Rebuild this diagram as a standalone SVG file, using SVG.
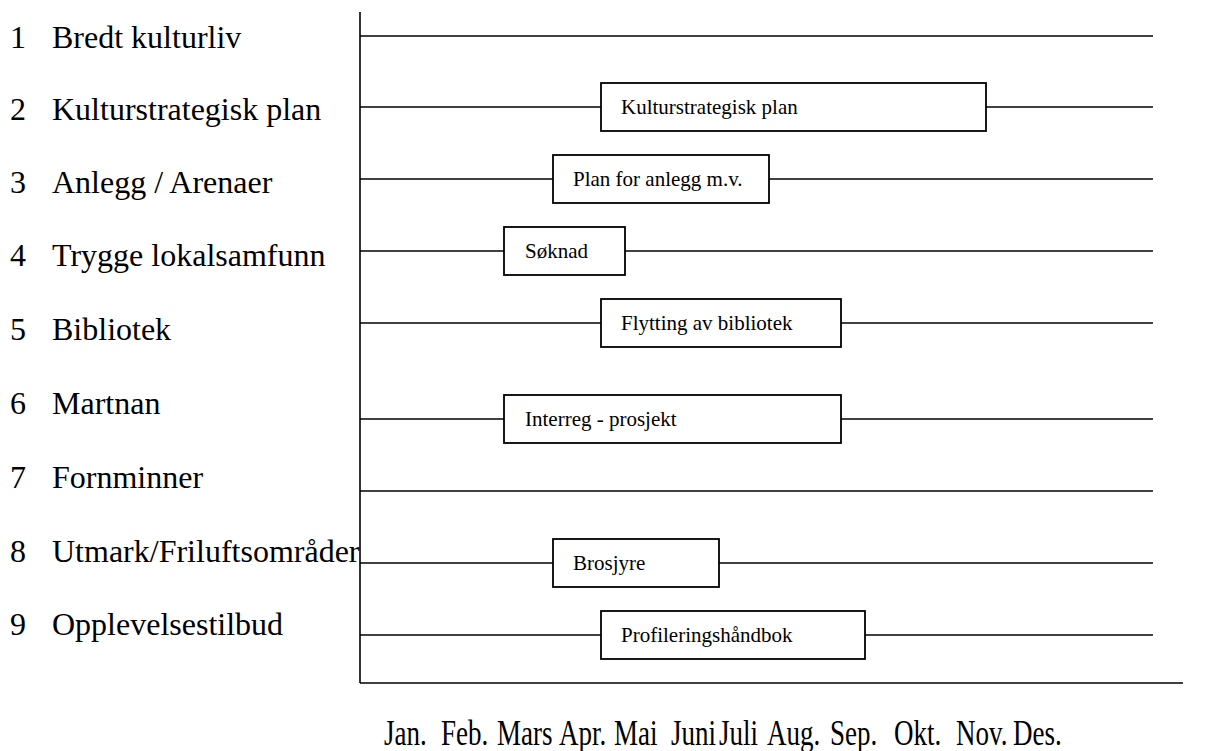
<svg xmlns="http://www.w3.org/2000/svg" width="1213" height="751" viewBox="0 0 1213 751">
<style>
.lbl{font-family:"Liberation Serif","Times New Roman",serif;font-size:32px;fill:#000}
.mon{font-family:"Liberation Serif","Times New Roman",serif;font-size:27px;fill:#000}
.bt{font-family:"Liberation Serif","Times New Roman",serif;font-size:21px;fill:#000}
.ln{stroke:#000;stroke-width:1.6;fill:none}
.box{stroke:#000;stroke-width:1.8;fill:#fff}
</style>
<rect width="1213" height="751" fill="#fff"/>
<g id="labels">
<text class="lbl" x="10" y="48">1</text><text class="lbl" x="52" y="48">Bredt kulturliv</text>
<text class="lbl" x="10" y="120">2</text><text class="lbl" x="52" y="120">Kulturstrategisk plan</text>
<text class="lbl" x="10" y="193">3</text><text class="lbl" x="52" y="193">Anlegg / Arenaer</text>
<text class="lbl" x="10" y="266">4</text><text class="lbl" x="52" y="266">Trygge lokalsamfunn</text>
<text class="lbl" x="10" y="340">5</text><text class="lbl" x="52" y="340">Bibliotek</text>
<text class="lbl" x="10" y="414">6</text><text class="lbl" x="52" y="414">Martnan</text>
<text class="lbl" x="10" y="488">7</text><text class="lbl" x="52" y="488">Fornminner</text>
<text class="lbl" x="10" y="562">8</text><text class="lbl" x="52" y="562">Utmark/Friluftsområder</text>
<text class="lbl" x="10" y="635">9</text><text class="lbl" x="52" y="635">Opplevelsestilbud</text>
</g>
<g id="connectors">
<line class="ln" x1="360" y1="12" x2="360" y2="683"/>
<line class="ln" x1="360" y1="683" x2="1183" y2="683"/>
<line class="ln" x1="360" y1="36" x2="1153" y2="36"/>
<line class="ln" x1="360" y1="107" x2="1153" y2="107"/>
<line class="ln" x1="360" y1="179" x2="1153" y2="179"/>
<line class="ln" x1="360" y1="251" x2="1153" y2="251"/>
<line class="ln" x1="360" y1="323" x2="1153" y2="323"/>
<line class="ln" x1="360" y1="419" x2="1153" y2="419"/>
<line class="ln" x1="360" y1="491" x2="1153" y2="491"/>
<line class="ln" x1="360" y1="563" x2="1153" y2="563"/>
<line class="ln" x1="360" y1="635" x2="1153" y2="635"/>
</g>
<g id="node-kulturstrategisk"><rect class="box" x="601" y="83" width="385" height="48"/><text class="bt" x="621" y="114">Kulturstrategisk plan</text></g>
<g id="node-anlegg"><rect class="box" x="553" y="155" width="216" height="48"/><text class="bt" x="573" y="186">Plan for anlegg m.v.</text></g>
<g id="node-soknad"><rect class="box" x="504" y="227" width="121" height="48"/><text class="bt" x="525" y="258">Søknad</text></g>
<g id="node-flytting"><rect class="box" x="601" y="299" width="240" height="48"/><text class="bt" x="621" y="330">Flytting av bibliotek</text></g>
<g id="node-interreg"><rect class="box" x="504" y="395" width="337" height="48"/><text class="bt" x="525" y="426">Interreg - prosjekt</text></g>
<g id="node-brosjyre"><rect class="box" x="553" y="539" width="166" height="48"/><text class="bt" x="573" y="570">Brosjyre</text></g>
<g id="node-profilering"><rect class="box" x="601" y="611" width="264" height="48"/><text class="bt" x="621" y="642">Profileringshåndbok</text></g>
<g id="months" transform="translate(0,745) scale(1,1.35)">
<text class="mon" x="384" y="0">Jan.</text>
<text class="mon" x="441" y="0">Feb.</text>
<text class="mon" x="497" y="0">Mars</text>
<text class="mon" x="559" y="0">Apr.</text>
<text class="mon" x="614" y="0">Mai</text>
<text class="mon" x="671" y="0">Juni</text>
<text class="mon" x="719" y="0">Juli</text>
<text class="mon" x="767" y="0">Aug.</text>
<text class="mon" x="830" y="0">Sep.</text>
<text class="mon" x="894" y="0">Okt.</text>
<text class="mon" x="956" y="0">Nov.</text>
<text class="mon" x="1013" y="0">Des.</text>
</g>
</svg>
